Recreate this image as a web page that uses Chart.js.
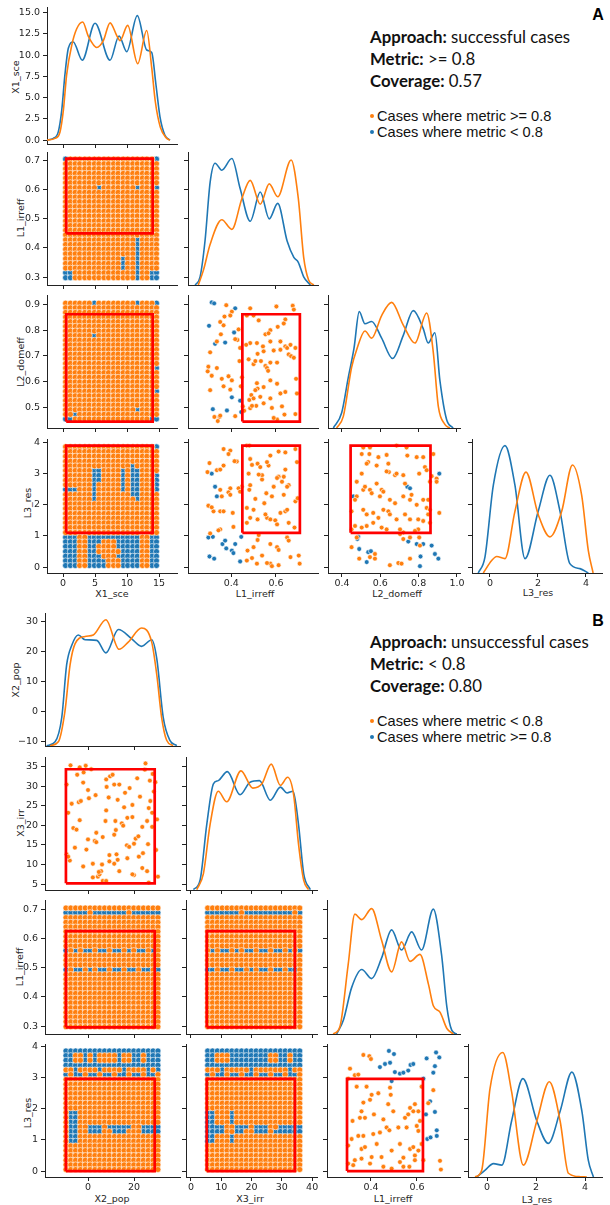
<!DOCTYPE html>
<html>
<head>
<meta charset="utf-8">
<script src="https://cdn.jsdelivr.net/npm/chart.js@4.4.1/dist/chart.umd.min.js"></script>
<style>
  body { margin: 0; background: #fff; width: 610px; height: 1205px; position: relative; overflow: hidden; font-family: "DejaVu Sans", sans-serif; }
  canvas { position: absolute; }
  .lbl { position: absolute; font-size: 9.5px; color: #262626; white-space: nowrap; transform: translate(-50%, -50%); }
  .ylbl { transform: translate(-50%, -50%) rotate(-90deg); }
  .info { position: absolute; left: 370px; font-family: Lato, sans-serif; font-size: 16.8px; line-height: 20px; color: #111; white-space: nowrap; }
  .leg { position: absolute; left: 370px; font-family: "Liberation Sans", Arial, sans-serif; font-size: 14.6px; line-height: 16px; color: #111; white-space: nowrap; }
  .dot { display: inline-block; width: 4px; height: 4px; border-radius: 50%; margin-right: 3px; vertical-align: middle; position: relative; top: -1px; }
  .tag { position: absolute; font-family: "Liberation Sans", Arial, sans-serif; font-weight: bold; font-size: 16px; transform: translate(-50%, -50%); }
</style>
</head>
<body>
<div class="tag" style="left:598px;top:15px">A</div>
<div class="info" style="top:27px"><b>Approach:</b> successful cases</div>
<div class="info" style="top:49px"><b>Metric:</b> &gt;= 0.8</div>
<div class="info" style="top:71px"><b>Coverage:</b> 0.57</div>
<div class="leg" style="top:108px"><span class="dot" style="background:#ff7f0e"></span>Cases where metric &gt;= 0.8</div>
<div class="leg" style="top:124px"><span class="dot" style="background:#1f77b4"></span>Cases where metric &lt; 0.8</div>

<div class="tag" style="left:598px;top:621px">B</div>
<div class="info" style="top:632px"><b>Approach:</b> unsuccessful cases</div>
<div class="info" style="top:654px"><b>Metric:</b> &lt; 0.8</div>
<div class="info" style="top:676px"><b>Coverage:</b> 0.80</div>
<div class="leg" style="top:713px"><span class="dot" style="background:#ff7f0e"></span>Cases where metric &lt; 0.8</div>
<div class="leg" style="top:729px"><span class="dot" style="background:#1f77b4"></span>Cases where metric &gt;= 0.8</div>

<div class="lbl ylbl" style="left:15px;top:77px">X1_sce</div>
<div class="lbl ylbl" style="left:20px;top:218px">L1_irreff</div>
<div class="lbl ylbl" style="left:20px;top:362px">L2_domeff</div>
<div class="lbl ylbl" style="left:27px;top:503px">L3_res</div>
<div class="lbl" style="left:112px;top:593px">X1_sce</div>
<div class="lbl" style="left:255px;top:593px">L1_irreff</div>
<div class="lbl" style="left:397px;top:593px">L2_domeff</div>
<div class="lbl" style="left:538px;top:592px">L3_res</div>

<div class="lbl ylbl" style="left:15px;top:680px">X2_pop</div>
<div class="lbl ylbl" style="left:20px;top:823px">X3_irr</div>
<div class="lbl ylbl" style="left:19px;top:967px">L1_irreff</div>
<div class="lbl ylbl" style="left:27px;top:1113px">L3_res</div>
<div class="lbl" style="left:112px;top:1198px">X2_pop</div>
<div class="lbl" style="left:250px;top:1198px">X3_irr</div>
<div class="lbl" style="left:393px;top:1198px">L1_irreff</div>
<div class="lbl" style="left:537px;top:1199px">L3_res</div>

<script>
// ---------- tick values ----------
const ticksX1 = [0, 5, 10, 15];
const ticksX1y = [0, 2.5, 5, 7.5, 10, 12.5, 15];
const ticksL1 = [0.3, 0.4, 0.5, 0.6, 0.7];
const ticksL1x = [0.4, 0.6];
const ticksL2 = [0.5, 0.6, 0.7, 0.8, 0.9];
const ticksL2x = [0.4, 0.6, 0.8, 1.0];
const ticksL3 = [0, 1, 2, 3, 4];
const ticksL3x = [0, 2, 4];
const ticksX2 = [-10, 0, 10, 20, 30];
const ticksX2x = [0, 20];
const ticksX3 = [5, 10, 15, 20, 25, 30, 35];
const ticksX3x = [0, 10, 20, 30, 40];

// ---------- density curves (value read in the row variable's units) ----------
const kdeA_X1_orange = [[-2.6,0],[-1.25,0.2],[-0.47,0.96],[0.05,3.46],[0.57,7.7],[1.36,11.15],[2.14,13.1],[3.07,13.9],[3.96,12.2],[5.27,10.9],[6.3,11.7],[7.35,13.8],[8.39,12.3],[8.9,11.7],[10.1,13.5],[11.66,9.0],[13.07,12.9],[13.86,8.46],[14.4,4.6],[15.2,1.5],[16.2,0.2],[16.7,0]];
const kdeA_X1_blue = [[-2.6,0],[-1.5,0.2],[-0.73,1.0],[-0.2,3.5],[0.3,7.7],[0.83,10.8],[1.6,11.55],[3.0,9.4],[5.0,13.75],[7.34,9.4],[8.75,12.25],[9.95,10.4],[11.6,14.65],[13.07,10.6],[13.85,10.3],[14.5,6.6],[15.15,2.7],[15.9,0.6],[16.7,0]];
const kdeA_L1_blue = [[0.239,0.273],[0.261,0.301],[0.283,0.424],[0.306,0.626],[0.328,0.691],[0.358,0.667],[0.403,0.707],[0.44,0.604],[0.485,0.492],[0.53,0.592],[0.57,0.50],[0.608,0.553],[0.65,0.424],[0.68,0.368],[0.70,0.351],[0.724,0.301],[0.754,0.273]];
const kdeA_L1_orange = [[0.253,0.273],[0.276,0.324],[0.306,0.413],[0.358,0.497],[0.403,0.464],[0.448,0.57],[0.485,0.632],[0.53,0.55],[0.57,0.62],[0.608,0.576],[0.668,0.702],[0.70,0.57],[0.724,0.368],[0.746,0.29],[0.769,0.273]];
const kdeA_L2_blue = [[0.355,0.42],[0.398,0.478],[0.433,0.617],[0.463,0.731],[0.49,0.872],[0.52,0.825],[0.555,0.834],[0.607,0.769],[0.664,0.69],[0.72,0.78],[0.772,0.876],[0.824,0.806],[0.85,0.75],[0.885,0.79],[0.911,0.605],[0.946,0.453],[0.98,0.42]];
const kdeA_L2_orange = [[0.372,0.42],[0.407,0.465],[0.45,0.655],[0.477,0.725],[0.52,0.797],[0.555,0.769],[0.607,0.857],[0.659,0.908],[0.72,0.82],[0.781,0.75],[0.842,0.867],[0.876,0.718],[0.903,0.503],[0.937,0.434],[0.963,0.42]];
const kdeA_L3_blue = [[-0.49,-0.19],[-0.21,0.32],[0.14,2.63],[0.625,3.9],[1.04,2.63],[1.46,0.27],[2.01,1.79],[2.5,2.95],[2.92,1.79],[3.33,0.11],[3.75,-0.05],[4.1,-0.19]];
const kdeA_L3_orange = [[-0.28,-0.19],[0.07,0.21],[0.28,0.34],[0.625,0.27],[1.04,1.79],[1.5,3.05],[2.01,1.69],[2.5,0.97],[2.99,1.79],[3.44,3.28],[3.82,2.32],[4.1,0.53],[4.3,-0.19]];

const kdeB_X2_blue = [[-18,-11.5],[-14.3,-10.2],[-11.4,-2.0],[-9.3,15.5],[-7.1,22.0],[-4.2,25.5],[-1.3,23.9],[3.8,23.7],[7.8,19.5],[13.2,27.3],[19,24.2],[23.3,21.7],[27.7,23.9],[29.9,17.6],[32.7,-2.0],[35.6,-9.7],[38.6,-11.5]];
const kdeB_X2_orange = [[-16.5,-11.5],[-12.9,-10.2],[-10,0.16],[-7.8,15.5],[-5.6,22.6],[-1.3,25],[2.3,25.5],[7.8,30.6],[13.5,20.7],[17.5,23.1],[23.3,27.8],[27.7,23.1],[29.9,12.2],[32,-2.0],[34.2,-9.7],[37,-11.5]];
const kdeB_X3_blue = [[0.8,3.6],[3.0,6.0],[5.2,20.2],[7.4,30.6],[9.0,31.4],[12.0,33.7],[16.2,27.8],[19.5,31],[22.6,31.4],[26.2,26.4],[29.5,29.75],[31.7,28.25],[33.7,28.7],[35.5,20.2],[37.2,7.7],[39.4,3.6]];
const kdeB_X3_orange = [[1.9,3.6],[4.1,7.7],[6.3,20.2],[9.0,28.7],[11.8,26],[16.5,33.9],[20.4,29.5],[23.4,30.6],[26.5,35.6],[29.5,30.2],[31.9,32.25],[33.9,27.7],[35.5,15.2],[37.2,6.0],[38.8,3.6]];
const kdeB_L1_orange = [[0.236,0.273],[0.265,0.298],[0.301,0.511],[0.33,0.684],[0.36,0.665],[0.403,0.703],[0.446,0.595],[0.49,0.486],[0.533,0.589],[0.57,0.522],[0.613,0.546],[0.65,0.443],[0.671,0.37],[0.70,0.348],[0.73,0.292],[0.758,0.273]];
const kdeB_L1_blue = [[0.251,0.273],[0.28,0.32],[0.316,0.432],[0.36,0.494],[0.403,0.463],[0.446,0.533],[0.49,0.63],[0.533,0.561],[0.577,0.623],[0.62,0.561],[0.671,0.701],[0.707,0.544],[0.73,0.365],[0.751,0.286],[0.773,0.273]];
const kdeB_L3_orange = [[-0.49,-0.19],[-0.22,0.03],[0.12,2.66],[0.64,3.81],[1.0,2.55],[1.48,0.19],[2.03,1.61],[2.54,2.87],[2.98,1.61],[3.32,-0.07],[3.8,-0.18],[4.07,-0.19]];
const kdeB_L3_blue = [[-0.42,-0.19],[-0.08,0.03],[0.26,0.24],[0.6,0.19],[1.0,1.61],[1.46,2.97],[2.03,1.61],[2.5,0.89],[2.98,1.92],[3.46,3.18],[3.87,1.92],[4.13,0.35],[4.34,-0.19]];

// ---------- sampled grid levels (dense experiments) ----------
const levX1 = [0.4,1.15,1.9,2.6,3.4,4.1,4.9,5.6,6.4,7.1,7.9,8.6,9.4,10.1,10.9,11.6,12.4,13.1,13.9,14.6];
const levX2 = [-9.6,-7.5,-5.4,-3.3,-1.2,0.9,3.0,5.1,7.2,9.3,11.5,13.6,15.7,17.8,19.9,22.0,24.1,26.2,28.3,30.4];
const levX3 = [5.5,7.1,8.7,10.3,11.9,13.5,15.1,16.7,18.3,19.9,21.5,23.1,24.7,26.3,27.9,29.5,31.1,32.7,34.3,35.9];
const levL1 = [0.705,0.689,0.672,0.656,0.64,0.624,0.607,0.591,0.575,0.559,0.542,0.526,0.51,0.493,0.477,0.461,0.445,0.428,0.412,0.396,0.38,0.363,0.347,0.331,0.315,0.298];
const levL2 = [0.905,0.887,0.869,0.851,0.833,0.815,0.797,0.779,0.761,0.743,0.725,0.707,0.689,0.671,0.653,0.635,0.617,0.599,0.581,0.563,0.545,0.527,0.509,0.491,0.473,0.455];
const levL3 = [3.86,3.71,3.56,3.40,3.25,3.10,2.94,2.79,2.64,2.49,2.33,2.18,2.03,1.88,1.72,1.57,1.42,1.27,1.11,0.96,0.81,0.66,0.50,0.35,0.20,0.05];

// outcome per grid cell: o = orange class, b = blue class (rows follow the y levels)
const gridA_X1_L1 = [
  'boooooooooooooooooob','oooooooooooooooooooo','oooooooooooooooooooo','oooooooooooooooooooo',
  'oooooooooooooooooooo','oooooooooooooooooooo','ooooooobooooooobooob','oooooooooooooooooooo',
  'oooooooooooooooooooo','oooooooooooooooooooo','oooooooooooooooooooo','oooooooooooooooooooo',
  'oooooooooooooooooooo','oooooooooooooooooooo','oooooooooooooooooooo','oooooooooooooooooooo',
  'oooooooooooooooooooo','oooooooooooooooboooo','oooooooooooooooboooo','oooooooooooooooboooo',
  'oooooooooooooooboooo','oooooooooooobooboooo','oooooooooooobooboooo','oooooooooooobooboooo',
  'bboooooooooooooboobb','bboooooooooooooboobb'
];
const gridA_X1_L2 = [
  'ooooooboooooooobooob','oooooooooooooooooooo','oooooooooooooooooooo','oooooooooooooooooooo',
  'oooooooooooooooooooo','oooooooooooooooooooo','oooooooooooooooooooo','oooooobooooooooooooo',
  'oooooooooooooooooooo','oooooooooooooooooooo','oooooooooooooooooooo','oooooooooooooooooooo',
  'oooooooooooooooooooo','oooooooooooooooooooo','ooooooooooooooooooob','oooooooooooooooooooo',
  'oooooooooooooooooooo','oooooooooooooooooooo','oooooooooooooooooooo','ooooooooooooooooooob',
  'oooooooooooooooooooo','oooooooooooooooooooo','oooooooooooooooooooo','oooooooooooooooboooo',
  'oobooooooooooooooooo','bboooooooooooooooobb'
];
const gridA_X1_L3 = [
  'ooooooooooooooooooob','oooooooooooooooooooo','oooooooooooooooooooo','oooooooooooooooooooo',
  'oooooooooooooobooooo','oooooobboooobobboooo','oooooobboooobobbooob','oooooobboooobobbooob',
  'oooooobooooobobbooob','bbbooobooooobobbooob','oooooobooooooobboooo','oooooobooooooooboooo',
  'oooooooooooooooooooo','oooooooooooooooooooo','oooooooooooooooooooo','oooooooooooooooooooo',
  'oooooooooooooooooooo','oooooooooooooooooooo','oooooooooooooooooooo','bbboobbbbbbbbbbboobb',
  'bbboobbbooobbbbboobb','bbboobboooobbbbboobb','bbboobbooooobbbboobb','bbboobbbooobbbbboobb',
  'bbboobbbbooobbbboobb','bbboobbbbooobbbboobb'
];
const gridB_X2_L1 = [
  'oooooooooooooooooooo','bbbbbobbbbbbbobbbbbb','oooooooooooooooooooo','oooooooooooooooooooo',
  'oooooooooooooooooooo','oooooooooooooooooooo','oooooooooooooooooooo','oooooooooooooooooooo',
  'oooooooooooooooooooo','bobobbobbobbobobbobo','oooooooooooooooooooo','oooooooooooooooooooo',
  'oooooooooooooooooooo','bobbobobbobbobbobbob','oooooooooooooooooooo','oooooooooooooooooooo',
  'oooooooooooooooooooo','oooooooooooooooooooo','oooooooooooooooooooo','oooooooooooooooooooo',
  'oooooooooooooooooooo','oooooooooooooooooooo','oooooooooooooooooooo','oooooooooooooooooooo',
  'oooooooooooooooooooo','oooooooooooooooooooo'
];
const gridB_X2_L3 = [
  'bbbbbbbbbbbbbbbbbbbb','bboobobooooboobbobbb','bboobobooooboobbobbb','bbbbbbbbbbbbbbbbbbbb',
  'ooboooobooooboooobob','bobbobbobbobbobbobbo','oooooooooooooooooooo','oooooooooooooooooooo',
  'oooooooooooooooooooo','oooooooooooooooooooo','oooooooooooooooooooo','oooooooooooooooooooo',
  'oooooooooooooooooooo','obbooooooooooooooooo','obbooooooooooooooooo','obbooooooooooooooooo',
  'obboobbbobbbbboobbbb','obboobbboobbbooobbbb','obbooooooooooooooooo','obbooooooooooooooooo',
  'oooooooooooooooooooo','oooooooooooooooooooo','oooooooooooooooooooo','oooooooooooooooooooo',
  'oooooooooooooooooooo','oooooooooooooooooooo'
];
const gridB_X3_L1 = [
  'oooooooooooooooooooo','bbbbbbbobbbbbbbbbbob','oooooooooooooooooooo','oooooooooooooooooooo',
  'oooooooooooooooooooo','oooooooooooooooooooo','oooooooooooooooooooo','oooooooooooooooooooo',
  'oooooooooooooooooooo','obobbobobbobbobbobob','oooooooooooooooooooo','oooooooooooooooooooo',
  'oooooooooooooooooooo','bbobbobbobobbobbobbo','oooooooooooooooooooo','oooooooooooooooooooo',
  'oooooooooooooooooooo','oooooooooooooooooooo','oooooooooooooooooooo','oooooooooooooooooooo',
  'oooooooooooooooooooo','oooooooooooooooooooo','oooooooooooooooooooo','oooooooooooooooooooo',
  'oooooooooooooooooooo','oooooooooooooooooooo'
];
const gridB_X3_L3 = [
  'bbbbbbbbbbbbbbbbbbbb','bbooobbbbbbbboobbobb','bbooobbbbbbbboobbobb','bbbbbbbbbbbbbbbbbbbb',
  'oooboooooboooooooboo','bobbobbobbobbobbobbo','oooooooooooooooooooo','oooooooooooooooooooo',
  'oooooooooooooooooooo','oooooooooooooooooooo','oooooooooooooooooooo','oooooooooooooooooooo',
  'oooooooooooooooooooo','bboooboooooooooooooo','bboooboooooooooooooo','bboooboooooooooooooo',
  'bbbboobbbobbboobbbbb','bbbboobboobbbobbbbbb','bboooboooooooooooooo','bboooboooooooooooooo',
  'oooooooooooooooooooo','oooooooooooooooooooo','oooooooooooooooooooo','oooooooooooooooooooo',
  'oooooooooooooooooooo','oooooooooooooooooooo'
];

// ---------- sparse pairs ----------
const ptsA_L1_L2_blue = [[0.313,0.908],[0.324,0.904],[0.418,0.885],[0.301,0.817],[0.413,0.791],[0.328,0.747],[0.373,0.752],[0.403,0.539],[0.318,0.493],[0.381,0.488],[0.44,0.526],[0.445,0.482]];
const ptsA_L1_L2_orange = [[0.378,0.897],[0.403,0.872],[0.396,0.857],[0.37,0.853],[0.351,0.832],[0.366,0.819],[0.485,0.885],[0.47,0.857],[0.5,0.857],[0.523,0.838],[0.602,0.892],[0.675,0.895],[0.68,0.88],[0.642,0.842],[0.635,0.826],[0.608,0.813],[0.575,0.8],[0.553,0.784],[0.567,0.788],[0.433,0.803],[0.428,0.762],[0.418,0.765],[0.354,0.784],[0.336,0.756],[0.306,0.714],[0.298,0.658],[0.295,0.64],[0.313,0.623],[0.336,0.653],[0.358,0.611],[0.388,0.621],[0.366,0.582],[0.306,0.567],[0.403,0.605],[0.396,0.569],[0.437,0.68],[0.448,0.617],[0.443,0.582],[0.485,0.75],[0.467,0.743],[0.478,0.687],[0.5,0.668],[0.518,0.708],[0.508,0.68],[0.533,0.68],[0.545,0.718],[0.542,0.737],[0.553,0.661],[0.56,0.653],[0.565,0.642],[0.575,0.674],[0.605,0.674],[0.59,0.721],[0.62,0.724],[0.642,0.737],[0.65,0.731],[0.665,0.743],[0.657,0.706],[0.668,0.699],[0.68,0.693],[0.687,0.731],[0.69,0.611],[0.694,0.554],[0.642,0.56],[0.62,0.554],[0.605,0.592],[0.575,0.605],[0.545,0.579],[0.515,0.594],[0.518,0.573],[0.508,0.567],[0.49,0.548],[0.481,0.529],[0.5,0.535],[0.53,0.541],[0.575,0.535],[0.545,0.516],[0.512,0.506],[0.485,0.497],[0.458,0.487],[0.493,0.506],[0.452,0.504],[0.582,0.498],[0.627,0.504],[0.687,0.474],[0.638,0.472],[0.605,0.453],[0.59,0.459],[0.348,0.463],[0.34,0.447],[0.325,0.463],[0.351,0.468],[0.62,0.756],[0.575,0.756],[0.515,0.75],[0.44,0.731],[0.418,0.466]];

const ptsA_L1_L3_blue = [[0.313,3.0],[0.328,2.58],[0.336,2.27],[0.298,0.95],[0.318,0.97],[0.361,0.74],[0.373,0.85],[0.378,0.6],[0.403,0.53],[0.41,0.45],[0.418,0.74],[0.445,0.97],[0.303,0.34],[0.324,0.27],[0.44,0.18]];
const ptsA_L1_L3_orange = [[0.366,3.79],[0.396,3.74],[0.388,3.63],[0.303,3.34],[0.294,3.05],[0.336,3.11],[0.351,3.13],[0.425,3.39],[0.47,3.9],[0.481,3.9],[0.485,3.47],[0.493,3.28],[0.478,3.0],[0.518,3.32],[0.53,3.21],[0.538,2.95],[0.575,3.58],[0.567,3.26],[0.56,3.37],[0.612,3.71],[0.642,3.68],[0.687,3.79],[0.694,3.37],[0.612,2.9],[0.605,2.86],[0.635,2.9],[0.657,2.63],[0.65,2.58],[0.627,2.74],[0.635,2.32],[0.59,2.58],[0.582,2.27],[0.557,2.37],[0.548,2.05],[0.508,2.19],[0.485,2.63],[0.481,2.48],[0.523,2.97],[0.448,2.58],[0.433,2.53],[0.44,2.42],[0.396,2.53],[0.388,2.4],[0.351,2.48],[0.358,2.27],[0.396,2.32],[0.321,1.79],[0.298,1.97],[0.313,1.92],[0.351,1.79],[0.366,1.79],[0.407,1.74],[0.47,1.9],[0.5,1.84],[0.485,1.58],[0.518,1.53],[0.56,1.58],[0.553,1.69],[0.575,1.53],[0.62,1.74],[0.642,1.79],[0.65,1.84],[0.657,1.42],[0.683,1.27],[0.687,2.11],[0.697,2.21],[0.597,1.5],[0.605,1.37],[0.47,1.42],[0.41,1.29],[0.351,1.21],[0.343,1.18],[0.306,1.08],[0.523,1.03],[0.518,0.87],[0.5,0.64],[0.473,0.53],[0.575,0.74],[0.605,0.64],[0.612,0.55],[0.65,0.95],[0.657,0.85],[0.702,0.37],[0.575,0.11],[0.582,0.03],[0.612,0.06],[0.56,0.13],[0.515,0.11],[0.493,0.29],[0.538,0.37],[0.47,0.21],[0.665,0.32],[0.706,0.11],[0.366,3.26],[0.415,3.4],[0.642,3.13],[0.538,2.81]];

const ptsA_L2_L3_blue = [[0.459,2.27],[0.485,0.97],[0.48,0.9],[0.49,0.58],[0.537,0.48],[0.551,0.51],[0.529,0.16],[0.741,2.58],[0.755,2.53],[0.746,0.82],[0.79,0.74],[0.824,0.74],[0.868,0.69],[0.908,3.0],[0.885,0.42],[0.903,0.27],[0.81,0.34],[0.807,0.03]];
const ptsA_L2_L3_orange = [[0.503,3.63],[0.511,3.84],[0.546,3.84],[0.543,3.63],[0.59,3.53],[0.633,3.6],[0.642,3.32],[0.685,3.9],[0.737,3.84],[0.741,3.58],[0.79,3.53],[0.824,3.53],[0.877,3.63],[0.833,3.21],[0.842,3.11],[0.868,2.92],[0.894,2.84],[0.894,2.74],[0.859,2.74],[0.803,3.0],[0.729,2.68],[0.72,2.95],[0.677,2.95],[0.685,3.0],[0.645,3.05],[0.633,3.07],[0.581,3.26],[0.537,3.37],[0.529,3.32],[0.503,3.0],[0.477,2.74],[0.511,2.48],[0.52,2.58],[0.546,2.48],[0.555,2.37],[0.607,2.48],[0.581,2.68],[0.477,2.27],[0.468,2.16],[0.598,2.27],[0.616,2.42],[0.65,2.16],[0.677,2.05],[0.72,2.27],[0.763,2.32],[0.755,2.16],[0.79,2.0],[0.824,2.16],[0.85,2.16],[0.842,1.9],[0.859,1.84],[0.908,1.74],[0.45,1.79],[0.511,1.84],[0.529,1.69],[0.563,1.74],[0.616,1.84],[0.642,1.79],[0.65,1.69],[0.685,1.53],[0.729,1.69],[0.755,1.53],[0.798,1.53],[0.824,1.48],[0.859,1.42],[0.798,1.21],[0.781,1.16],[0.72,1.11],[0.703,1.21],[0.633,1.21],[0.607,1.27],[0.59,1.58],[0.563,1.42],[0.529,1.32],[0.503,1.27],[0.468,1.32],[0.45,1.21],[0.477,0.95],[0.72,0.9],[0.755,0.95],[0.703,1.06],[0.546,0.32],[0.572,0.27],[0.572,0.42],[0.45,0.64],[0.49,0.27],[0.65,0.06],[0.694,0.13],[0.711,0.11],[0.755,0.27],[0.807,0.69],[0.803,0.95],[0.85,1.69]];

const ptsB_X2_X3_orange = [[-7.6,35.3],[-3.6,34.8],[-1.0,35.2],[1.4,34.3],[-1.9,33.5],[-4.7,32.9],[-9.3,30.4],[-2.1,30.9],[0,29.0],[-7.1,25.5],[-4.0,25.9],[-3.1,26.2],[0.4,26.9],[3.3,27.7],[7.9,31.7],[9.6,32.5],[10.7,32.9],[8.1,29.8],[11.4,30.4],[9.0,27.1],[13.6,30.4],[16.1,28.3],[12.9,26.5],[18.1,29.5],[21.4,32.0],[25.0,35.8],[24.7,34.2],[28.1,33.1],[26.9,31.4],[29.3,31.0],[28.6,28.6],[22.6,27.3],[27.1,26.2],[26.4,24.4],[19.3,25.2],[15.7,24.6],[7.9,23.8],[7.6,21.1],[11.9,21.1],[14.7,20.5],[15.3,19.9],[12.1,18.8],[11.4,17.6],[17.1,21.9],[19.3,22.1],[20.7,16.6],[21.9,17.2],[23.6,19.6],[25.7,21.1],[27.9,23.2],[30.0,21.5],[27.9,19.6],[-3.6,21.3],[-6.4,19.3],[-5.0,18.9],[-8.6,23.2],[0,16.4],[3.6,18.1],[2.9,16.0],[6.4,17.0],[-0.7,13.8],[3.6,15.7],[9.3,12.4],[12.4,12.6],[12.9,11.2],[11.4,10.2],[16.9,14.9],[17.9,14.5],[20.0,15.3],[22.1,12.0],[23.9,12.9],[26.1,15.2],[29.6,13.7],[23.6,9.1],[25.7,8.3],[20.0,7.3],[19.3,7.5],[17.1,11.6],[13.6,8.3],[9.3,10.8],[6.1,10.0],[2.1,10.2],[-2.1,9.5],[-5.7,14.3],[-7.9,11.0],[-9.3,12.6],[-8.6,12.0],[2.1,6.7],[4.3,6.9],[5.0,7.5],[5.7,8.3],[6.4,5.8],[7.9,5.8],[26.4,5.4],[30.4,6.9],[4.7,8.1]];

const ptsB_L1_L3_blue = [[0.478,3.86],[0.5,3.76],[0.461,3.44],[0.483,3.48],[0.439,3.34],[0.504,3.18],[0.526,3.13],[0.541,3.16],[0.562,3.23],[0.572,3.41],[0.584,3.44],[0.642,3.62],[0.683,3.81],[0.697,3.65],[0.671,3.16],[0.678,3.37],[0.628,2.97],[0.657,2.24],[0.678,1.9],[0.639,1.82],[0.686,1.31],[0.645,1.03],[0.659,1.08],[0.686,1.13],[0.49,2.89]];
const ptsB_L1_L3_orange = [[0.367,3.73],[0.393,3.69],[0.4,3.6],[0.309,3.29],[0.33,3.08],[0.345,3.1],[0.301,2.97],[0.338,2.71],[0.381,2.71],[0.403,2.45],[0.396,2.29],[0.432,2.5],[0.483,2.68],[0.486,2.45],[0.475,2.15],[0.367,2.2],[0.359,1.92],[0.32,1.61],[0.352,1.71],[0.374,1.71],[0.413,1.82],[0.454,1.66],[0.497,1.92],[0.562,1.82],[0.57,2.03],[0.591,2.15],[0.606,1.92],[0.62,2.71],[0.649,2.18],[0.671,2.6],[0.613,1.61],[0.599,1.45],[0.555,1.4],[0.519,1.4],[0.468,1.4],[0.439,1.24],[0.41,1.19],[0.367,1.13],[0.345,1.13],[0.316,1.03],[0.301,0.82],[0.359,0.71],[0.374,0.77],[0.425,0.87],[0.49,0.66],[0.526,0.87],[0.57,0.71],[0.584,0.77],[0.606,0.66],[0.62,0.87],[0.606,1.29],[0.591,0.5],[0.541,0.43],[0.526,0.29],[0.446,0.45],[0.403,0.45],[0.359,0.4],[0.33,0.35],[0.301,0.24],[0.323,0.19],[0.396,0.24],[0.454,0.14],[0.49,0.08],[0.541,0.14],[0.591,0.35],[0.628,0.35],[0.7,0.33],[0.704,0.05],[0.567,0.14],[0.584,1.92],[0.48,1.31],[0.548,1.71]];

// ---------- selected boxes [low, high] ----------
const boxA_X1 = [0.5, 14.0], boxA_L1 = [0.45, 0.707], boxA_L2 = [0.445, 0.862], boxA_L3 = [1.1, 3.9];
const boxB_X2 = [-9.6, 29.0], boxB_X3 = [5.2, 34.3], boxB_L1 = [0.296, 0.626], boxB_L3 = [0.0, 2.96];

// ---------- layout ----------
const ORANGE = '#ff7f0e', BLUE = '#1f77b4', RED = '#ff0000';
const colsA = [{ l: 47, w: 130 }, { l: 188, w: 130 }, { l: 328, w: 132 }, { l: 472, w: 130 }];
const rowsA = [{ t: 5, h: 139 }, { t: 150, h: 135 }, { t: 293, h: 135 }, { t: 437, h: 136 }];
const colsB = [{ l: 45, w: 135 }, { l: 186, w: 131 }, { l: 327, w: 133 }, { l: 468, w: 134 }];
const rowsB = [{ t: 611, h: 135 }, { t: 755, h: 135 }, { t: 898, h: 136 }, { t: 1042, h: 135 }];

function toXY(arr) { return arr.map(p => ({ x: p[0], y: p[1] })); }

function gridPts(xs, ys, rows, ch) {
  const out = [];
  ys.forEach((y, i) => xs.forEach((x, j) => {
    const c = (rows[i] || '')[j] || 'o';
    if (c === ch) out.push({ x: x, y: y });
  }));
  return out;
}

function fmt(v, d) { return v.toFixed(d).replace('-', '\u2212'); }

function kde(arr, color) {
  return { data: toXY(arr), showLine: true, borderColor: color, borderWidth: 1.6, pointRadius: 0,
           cubicInterpolationMode: 'monotone', fill: false };
}
function dots(pts, color, r) {
  return { data: pts, showLine: false, pointRadius: r, pointHoverRadius: r, pointBackgroundColor: color,
           pointBorderColor: '#ffffff', pointBorderWidth: 0.6 };
}
function box(bx, by) {
  const pts = [[bx[0], by[0]], [bx[1], by[0]], [bx[1], by[1]], [bx[0], by[1]], [bx[0], by[0]]];
  return { data: toXY(pts), showLine: true, borderColor: RED, borderWidth: 2.7, pointRadius: 0, tension: 0,
           borderJoinStyle: 'miter', fill: false };
}

function plot(col, row, ax, ay, showX, showY, datasets) {
  const padL = 46, padT = 6, padR = 12, padB = 22;
  const cv = document.createElement('canvas');
  cv.width = col.w + padL + padR;
  cv.height = row.h + padT + padB;
  cv.style.left = (col.l - padL) + 'px';
  cv.style.top = (row.t - padT) + 'px';
  document.body.appendChild(cv);
  const tickFont = { family: 'DejaVu Sans', size: 9.5 };
  const gridOpt = { display: true, drawOnChartArea: false, drawTicks: true, tickLength: 4, color: '#222', tickWidth: 1 };
  new Chart(cv, {
    type: 'scatter',
    data: { datasets: datasets },
    options: {
      responsive: false, animation: false, devicePixelRatio: 1,
      layout: { padding: { top: padT, right: padR, left: 0, bottom: 0 } },
      plugins: { legend: { display: false }, tooltip: { enabled: false } },
      events: [],
      scales: {
        x: {
          type: 'linear', min: ax.range[0], max: ax.range[1],
          afterFit: s => { s.height = padB; },
          afterBuildTicks: s => { s.ticks = ax.ticks.map(v => ({ value: v })); },
          grid: gridOpt,
          border: { display: true, color: '#222', width: 1 },
          ticks: { padding: 1, maxRotation: 0, autoSkip: false, color: '#262626', font: tickFont,
                   callback: v => showX ? fmt(v, ax.dec) : '' }
        },
        y: {
          type: 'linear', min: ay.range[0], max: ay.range[1],
          afterFit: s => { s.width = padL; },
          afterBuildTicks: s => { s.ticks = ay.ticks.map(v => ({ value: v })); },
          grid: gridOpt,
          border: { display: true, color: '#222', width: 1 },
          ticks: { padding: 3, autoSkip: false, color: '#262626', font: tickFont,
                   callback: v => showY ? fmt(v, ay.dec) : '' }
        }
      }
    }
  });
}

// axis specs
const A_x = [
  { range: [-2.5, 17.8], ticks: ticksX1, dec: 0 },
  { range: [0.207, 0.788], ticks: ticksL1x, dec: 1 },
  { range: [0.327, 1.016], ticks: ticksL2x, dec: 1 },
  { range: [-0.75, 4.67], ticks: ticksL3x, dec: 0 }
];
const A_y = [
  { range: [-0.46, 15.58], ticks: ticksX1y, dec: 1 },
  { range: [0.273, 0.727], ticks: ticksL1, dec: 1 },
  { range: [0.42, 0.934], ticks: ticksL2, dec: 1 },
  { range: [-0.19, 4.09], ticks: ticksL3, dec: 0 }
];
const B_x = [
  { range: [-18.7, 40], ticks: ticksX2x, dec: 0 },
  { range: [-1.65, 41.6], ticks: ticksX3x, dec: 0 },
  { range: [0.209, 0.787], ticks: ticksL1x, dec: 1 },
  { range: [-0.78, 4.69], ticks: ticksL3x, dec: 0 }
];
const B_y = [
  { range: [-11.6, 32.6], ticks: ticksX2, dec: 0 },
  { range: [3.5, 37.25], ticks: ticksX3, dec: 0 },
  { range: [0.273, 0.73], ticks: ticksL1, dec: 1 },
  { range: [-0.19, 4.06], ticks: ticksL3, dec: 0 }
];

const GR = 3.0, SR = 2.4;

// ----- panel A -----
plot(colsA[0], rowsA[0], A_x[0], A_y[0], false, true, [kde(kdeA_X1_orange, ORANGE), kde(kdeA_X1_blue, BLUE)]);
plot(colsA[0], rowsA[1], A_x[0], A_y[1], false, true, [box(boxA_X1, boxA_L1),
  dots(gridPts(levX1, levL1, gridA_X1_L1, 'o'), ORANGE, GR), dots(gridPts(levX1, levL1, gridA_X1_L1, 'b'), BLUE, GR)]);
plot(colsA[1], rowsA[1], A_x[1], A_y[1], false, false, [kde(kdeA_L1_orange, ORANGE), kde(kdeA_L1_blue, BLUE)]);
plot(colsA[0], rowsA[2], A_x[0], A_y[2], false, true, [box(boxA_X1, boxA_L2),
  dots(gridPts(levX1, levL2, gridA_X1_L2, 'o'), ORANGE, GR), dots(gridPts(levX1, levL2, gridA_X1_L2, 'b'), BLUE, GR)]);
plot(colsA[1], rowsA[2], A_x[1], A_y[2], false, false, [box(boxA_L1, boxA_L2),
  dots(toXY(ptsA_L1_L2_orange), ORANGE, SR), dots(toXY(ptsA_L1_L2_blue), BLUE, SR)]);
plot(colsA[2], rowsA[2], A_x[2], A_y[2], false, false, [kde(kdeA_L2_orange, ORANGE), kde(kdeA_L2_blue, BLUE)]);
plot(colsA[0], rowsA[3], A_x[0], A_y[3], true, true, [box(boxA_X1, boxA_L3),
  dots(gridPts(levX1, levL3, gridA_X1_L3, 'o'), ORANGE, GR), dots(gridPts(levX1, levL3, gridA_X1_L3, 'b'), BLUE, GR)]);
plot(colsA[1], rowsA[3], A_x[1], A_y[3], true, false, [box(boxA_L1, boxA_L3),
  dots(toXY(ptsA_L1_L3_orange), ORANGE, SR), dots(toXY(ptsA_L1_L3_blue), BLUE, SR)]);
plot(colsA[2], rowsA[3], A_x[2], A_y[3], true, false, [box(boxA_L2, boxA_L3),
  dots(toXY(ptsA_L2_L3_orange), ORANGE, SR), dots(toXY(ptsA_L2_L3_blue), BLUE, SR)]);
plot(colsA[3], rowsA[3], A_x[3], A_y[3], true, false, [kde(kdeA_L3_orange, ORANGE), kde(kdeA_L3_blue, BLUE)]);

// ----- panel B -----
plot(colsB[0], rowsB[0], B_x[0], B_y[0], false, true, [kde(kdeB_X2_orange, ORANGE), kde(kdeB_X2_blue, BLUE)]);
plot(colsB[0], rowsB[1], B_x[0], B_y[1], false, true, [box(boxB_X2, boxB_X3),
  dots(toXY(ptsB_X2_X3_orange), ORANGE, SR)]);
plot(colsB[1], rowsB[1], B_x[1], B_y[1], false, false, [kde(kdeB_X3_orange, ORANGE), kde(kdeB_X3_blue, BLUE)]);
plot(colsB[0], rowsB[2], B_x[0], B_y[2], false, true, [box(boxB_X2, boxB_L1),
  dots(gridPts(levX2, levL1, gridB_X2_L1, 'o'), ORANGE, GR), dots(gridPts(levX2, levL1, gridB_X2_L1, 'b'), BLUE, GR)]);
plot(colsB[1], rowsB[2], B_x[1], B_y[2], false, false, [box(boxB_X3, boxB_L1),
  dots(gridPts(levX3, levL1, gridB_X3_L1, 'o'), ORANGE, GR), dots(gridPts(levX3, levL1, gridB_X3_L1, 'b'), BLUE, GR)]);
plot(colsB[2], rowsB[2], B_x[2], B_y[2], false, false, [kde(kdeB_L1_orange, ORANGE), kde(kdeB_L1_blue, BLUE)]);
plot(colsB[0], rowsB[3], B_x[0], B_y[3], true, true, [box(boxB_X2, boxB_L3),
  dots(gridPts(levX2, levL3, gridB_X2_L3, 'o'), ORANGE, GR), dots(gridPts(levX2, levL3, gridB_X2_L3, 'b'), BLUE, GR)]);
plot(colsB[1], rowsB[3], B_x[1], B_y[3], true, false, [box(boxB_X3, boxB_L3),
  dots(gridPts(levX3, levL3, gridB_X3_L3, 'o'), ORANGE, GR), dots(gridPts(levX3, levL3, gridB_X3_L3, 'b'), BLUE, GR)]);
plot(colsB[2], rowsB[3], B_x[2], B_y[3], true, false, [box(boxB_L1, boxB_L3),
  dots(toXY(ptsB_L1_L3_orange), ORANGE, SR), dots(toXY(ptsB_L1_L3_blue), BLUE, SR)]);
plot(colsB[3], rowsB[3], B_x[3], B_y[3], true, false, [kde(kdeB_L3_orange, ORANGE), kde(kdeB_L3_blue, BLUE)]);
</script>
</body>
</html>
